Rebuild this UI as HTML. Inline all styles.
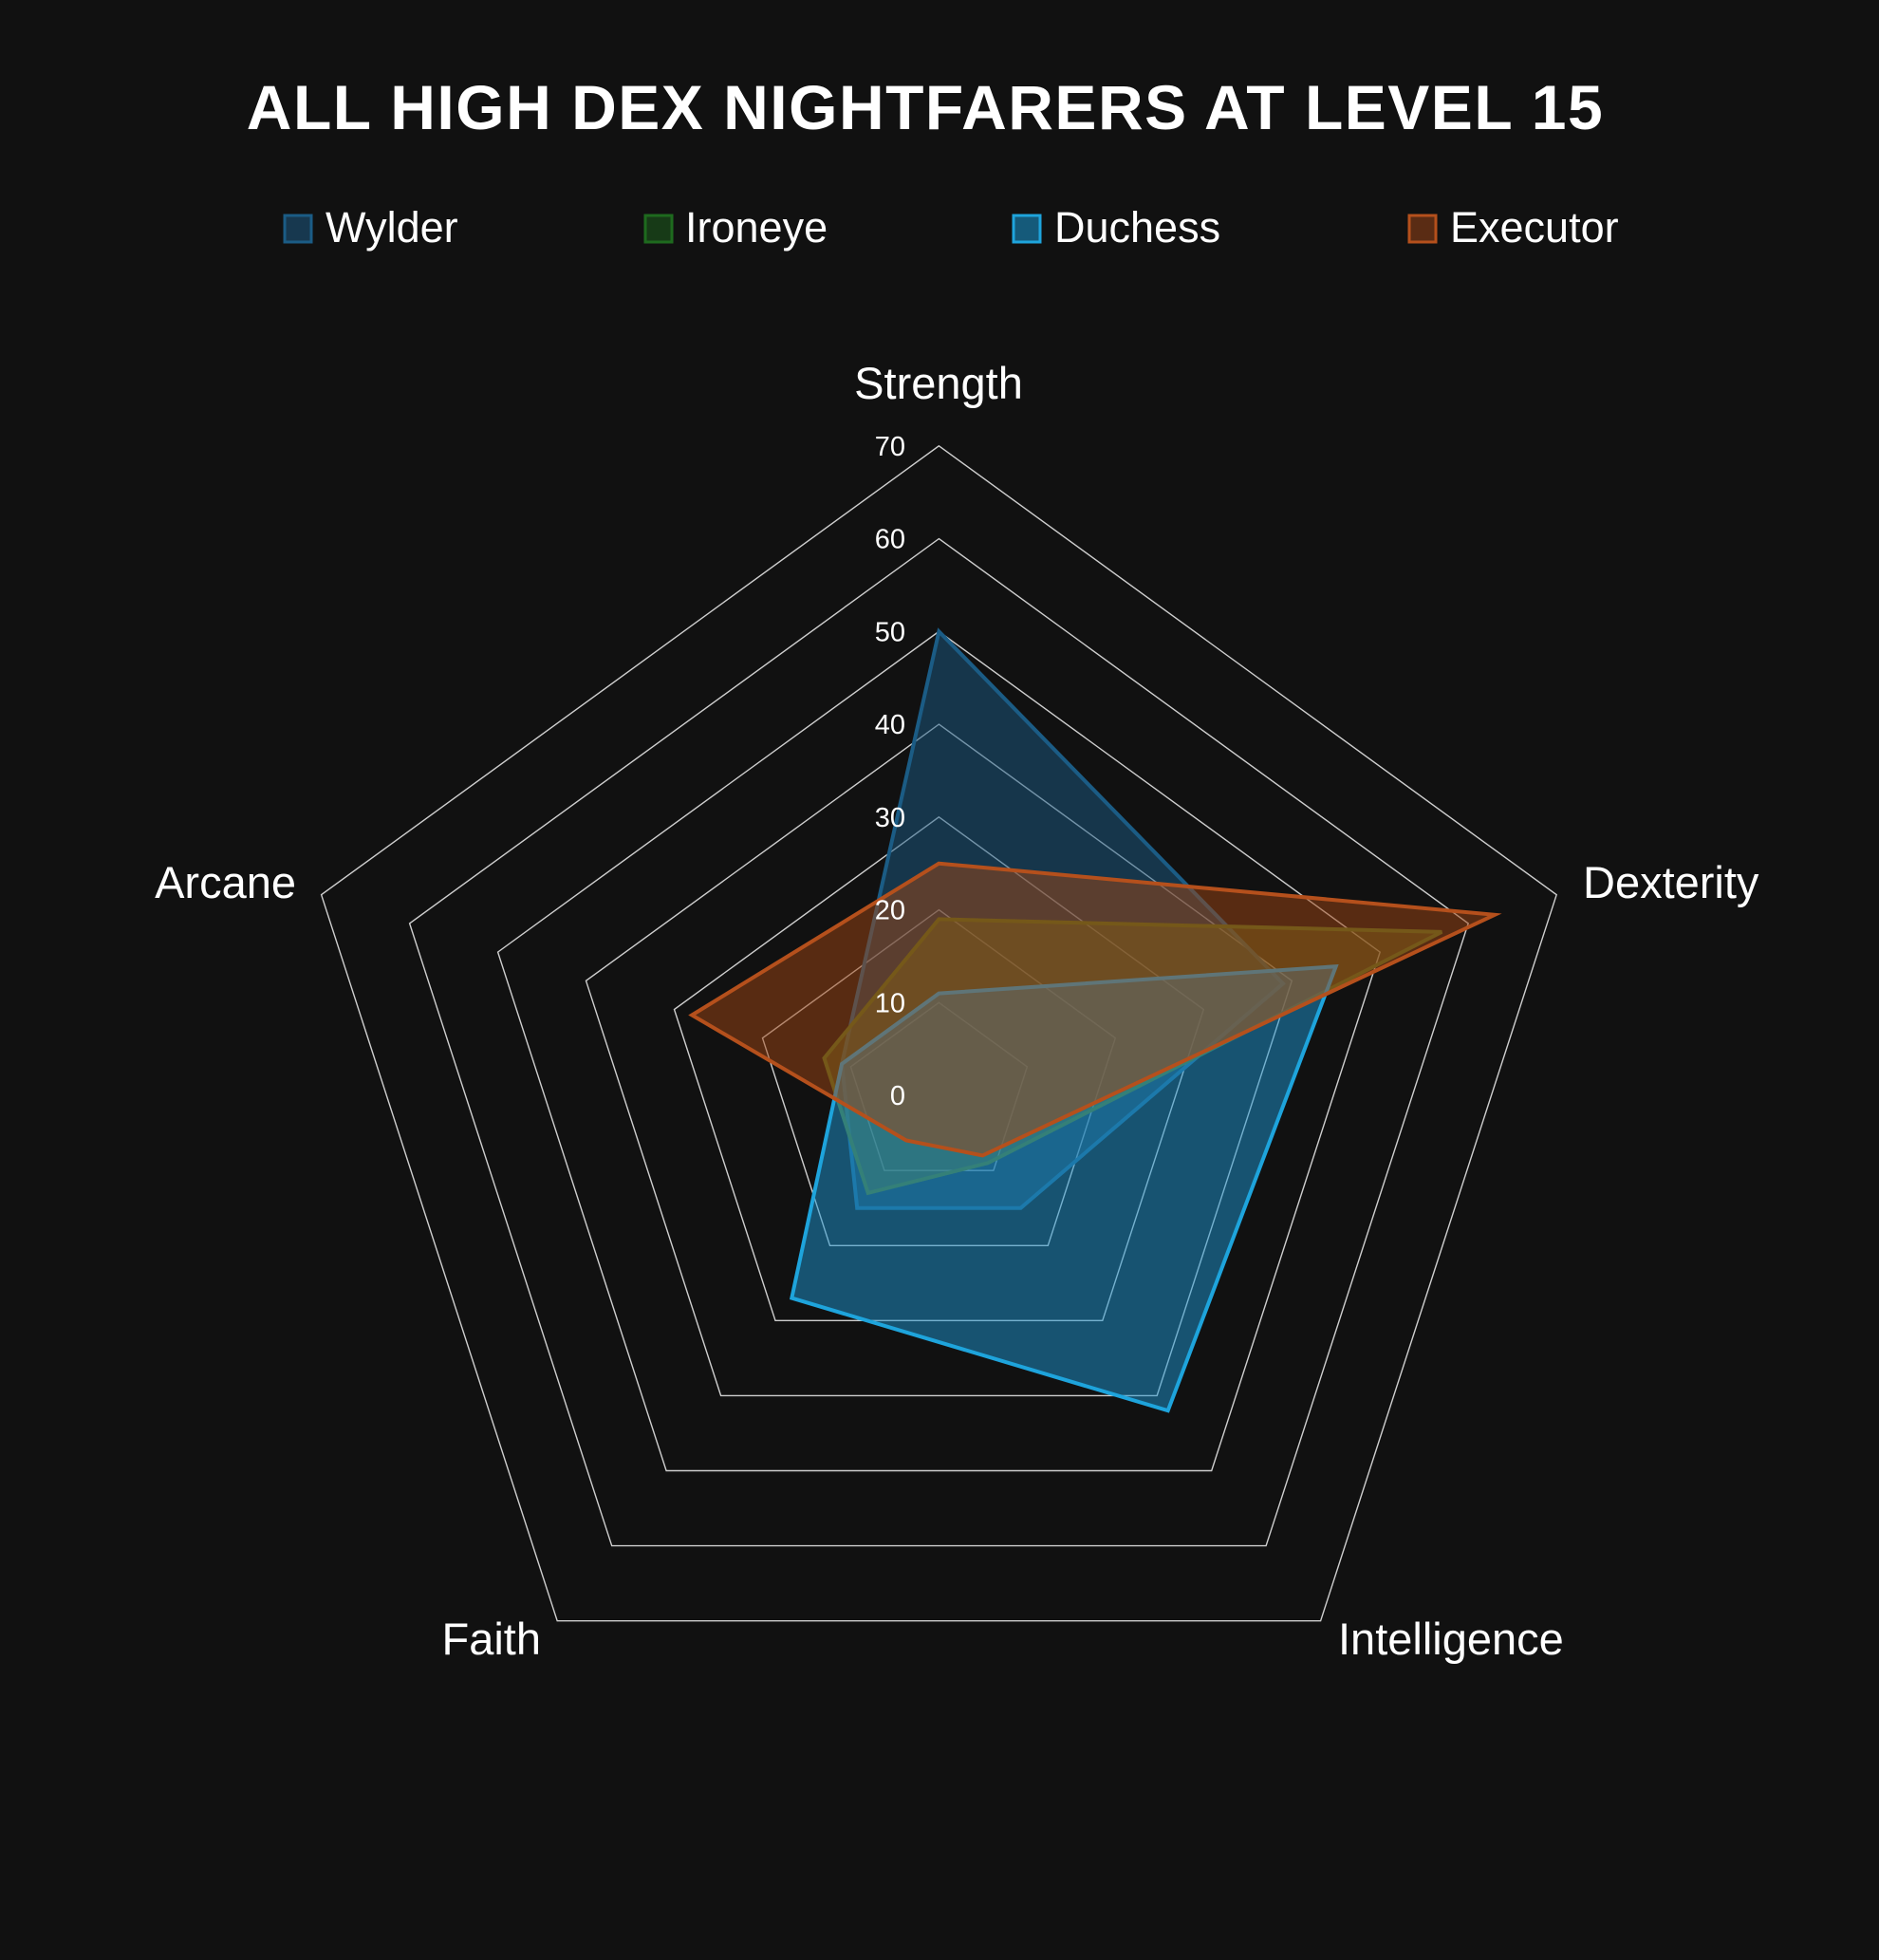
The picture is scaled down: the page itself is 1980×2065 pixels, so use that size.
<!DOCTYPE html>
<html><head><meta charset="utf-8"><style>
html,body{margin:0;padding:0;background:#111111;}
svg{display:block;font-family:"Liberation Sans",sans-serif;}
</style></head><body>
<svg width="1980" height="2065" viewBox="0 0 1980 2065">
<rect width="1980" height="2065" fill="#111111"/>
<text x="975" y="136" fill="#fff" font-size="66" font-weight="bold" text-anchor="middle" letter-spacing="1.5">ALL HIGH DEX NIGHTFARERS AT LEVEL 15</text>
<g font-size="45" fill="#fff">
<rect x="300" y="227" width="28" height="28" fill="#17384f" stroke="#1b5c85" stroke-width="3"/><text x="343" y="255">Wylder</text>
<rect x="680" y="227" width="28" height="28" fill="#173a17" stroke="#1e6a1e" stroke-width="3"/><text x="722" y="255">Ironeye</text>
<rect x="1068" y="227" width="28" height="28" fill="#155a7a" stroke="#1ea4dc" stroke-width="3"/><text x="1111" y="255">Duchess</text>
<rect x="1485" y="227" width="28" height="28" fill="#5a2c14" stroke="#b5501c" stroke-width="3"/><text x="1528" y="255">Executor</text>
</g>
<g id="grid" fill="none" stroke="#cfcfcf" stroke-width="1.4"></g>
<g id="series"></g>
<g id="ticks" font-size="29" fill="#fff" text-anchor="end"></g>
<g font-size="47" fill="#fff">
<text x="989" y="420" text-anchor="middle">Strength</text>
<text x="1668" y="946">Dexterity</text>
<text x="1410" y="1743">Intelligence</text>
<text x="570" y="1743" text-anchor="end">Faith</text>
<text x="312" y="946" text-anchor="end">Arcane</text>
</g>
<script>
var cx=989.4,cy=1154.1,u=9.775;
function pts(v){return v.map(function(r,i){var a=i*2*Math.PI/5;return (cx+r*u*Math.sin(a)).toFixed(1)+","+(cy-r*u*Math.cos(a)).toFixed(1);}).join(" ");}
var ns="http://www.w3.org/2000/svg",g=document.getElementById("grid"),t=document.getElementById("ticks");
for(var l=10;l<=70;l+=10){var p=document.createElementNS(ns,"polygon");p.setAttribute("points",pts([l,l,l,l,l]));g.appendChild(p);}
for(var l=0;l<=70;l+=10){var x=document.createElementNS(ns,"text");x.setAttribute("x",954);x.setAttribute("y",(cy-l*u+10).toFixed(1));x.textContent=l;t.appendChild(x);}
var S=[[[50,39,15,15,11],"#1b5c85","rgba(27,92,133,0.5)"],[[19,57,9,13,13],"#4a6a1e","rgba(95,110,30,0.55)"],[[11,45,42,27,11],"#1ea4dc","rgba(30,150,210,0.5)"],[[25,63,8,6,28],"#b5501c","rgba(160,70,20,0.5)"]];
var s=document.getElementById("series");
S.forEach(function(d){var p=document.createElementNS(ns,"polygon");p.setAttribute("points",pts(d[0]));p.setAttribute("fill",d[2]);p.setAttribute("stroke",d[1]);p.setAttribute("stroke-width","4");p.setAttribute("stroke-linejoin","miter");s.appendChild(p);});
</script>
</svg>
</body></html>
